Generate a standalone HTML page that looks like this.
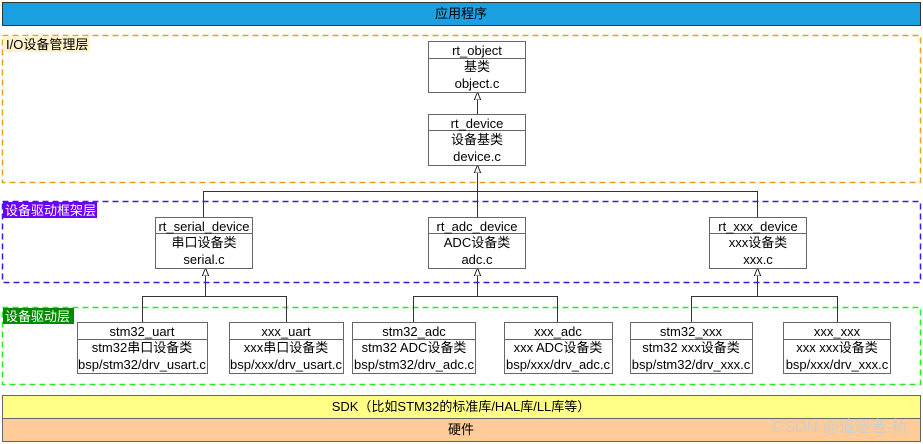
<!DOCTYPE html>
<html><head><meta charset="utf-8"><style>
html,body{margin:0;padding:0;background:#fff;}
svg{display:block;font-family:"Liberation Sans","Noto Sans CJK SC",sans-serif;}
text{font-size:13px;fill:#000;}
</style></head><body>
<svg width="923" height="444" viewBox="0 0 923 444" xmlns="http://www.w3.org/2000/svg">
<defs>
<marker id="tri" viewBox="0 0 10 10" refX="10" refY="5" markerWidth="8" markerHeight="8" orient="auto">
<path d="M0,1 L10,5 L0,9 Z" fill="#fff" stroke="#000" stroke-width="1"/></marker>
</defs>
<rect x="2.5" y="2.5" width="918" height="23" fill="#1ba1e2" stroke="#333"/>
<text x="461" y="18" text-anchor="middle">应用程序</text>

<rect x="2.5" y="35.5" width="918" height="147" fill="none" stroke="#e3a21a" stroke-width="1.5" stroke-dasharray="6,4"/>
<rect x="3" y="36" width="87" height="16" fill="#fff2cc"/>
<text x="6" y="49">I/O设备管理层</text>

<rect x="2.5" y="201.5" width="918" height="81" fill="none" stroke="#3d1bdc" stroke-width="1.5" stroke-dasharray="6,4"/>
<rect x="3" y="202" width="94" height="16" fill="#6a00ff"/>
<text x="5" y="215" style="fill:#fff">设备驱动框架层</text>

<rect x="2.5" y="307.5" width="918" height="77" fill="none" stroke="#22ee22" stroke-width="1.5" stroke-dasharray="6,4"/>
<rect x="3" y="308" width="71" height="16" fill="#008a00"/>
<text x="5" y="321" style="fill:#fff">设备驱动层</text>

<g fill="none" stroke="#333" stroke-width="1">
<path d="M477.5 114 V92" marker-end="url(#tri)"/>
<path d="M203.5 217 V191.5 H757.5 V217 M477.5 217 V165" marker-end="url(#tri)"/>
<path d="M142.5 322 V296.5 H286.5 V322 M205.5 296 V268" marker-end="url(#tri)"/>
<path d="M413.5 322 V296.5 H557.5 V322 M477.5 296 V268" marker-end="url(#tri)"/>
<path d="M691.5 322 V296.5 H837.5 V322 M757.5 296 V268" marker-end="url(#tri)"/>
</g>

<g fill="#fff" stroke="#666" stroke-width="1">
<rect x="428.5" y="41.5" width="97" height="51"/><line x1="428.5" y1="58.5" x2="525.5" y2="58.5"/>
<rect x="428.5" y="114.5" width="97" height="51"/><line x1="428.5" y1="130.5" x2="525.5" y2="130.5"/>
<rect x="155.5" y="217.5" width="97" height="51"/><line x1="155.5" y1="233.5" x2="252.5" y2="233.5"/>
<rect x="428.5" y="217.5" width="97" height="51"/><line x1="428.5" y1="233.5" x2="525.5" y2="233.5"/>
<rect x="709.5" y="217.5" width="97" height="51"/><line x1="709.5" y1="233.5" x2="806.5" y2="233.5"/>
<rect x="77.5" y="322.5" width="130" height="51"/><line x1="77.5" y1="339.5" x2="207.5" y2="339.5"/>
<rect x="229.5" y="322.5" width="114" height="51"/><line x1="229.5" y1="339.5" x2="343.5" y2="339.5"/>
<rect x="352.5" y="322.5" width="123" height="51"/><line x1="352.5" y1="339.5" x2="475.5" y2="339.5"/>
<rect x="504.5" y="322.5" width="108" height="51"/><line x1="504.5" y1="339.5" x2="612.5" y2="339.5"/>
<rect x="630.5" y="322.5" width="122" height="51"/><line x1="630.5" y1="339.5" x2="752.5" y2="339.5"/>
<rect x="783.5" y="322.5" width="107" height="51"/><line x1="783.5" y1="339.5" x2="890.5" y2="339.5"/>
</g>

<g text-anchor="middle">
<text x="477" y="55">rt_object</text><text x="477" y="71">基类</text><text x="477" y="88">object.c</text>
<text x="477" y="128">rt_device</text><text x="477" y="144">设备基类</text><text x="477" y="161">device.c</text>
<text x="204" y="231">rt_serial_device</text><text x="204" y="247">串口设备类</text><text x="204" y="264">serial.c</text>
<text x="477" y="231">rt_adc_device</text><text x="477" y="247">ADC设备类</text><text x="477" y="264">adc.c</text>
<text x="758" y="231">rt_xxx_device</text><text x="758" y="247">xxx设备类</text><text x="758" y="264">xxx.c</text>
<text x="142" y="336">stm32_uart</text><text x="142" y="352">stm32串口设备类</text><text x="142" y="369">bsp/stm32/drv_usart.c</text>
<text x="286" y="336">xxx_uart</text><text x="286" y="352">xxx串口设备类</text><text x="286" y="369">bsp/xxx/drv_usart.c</text>
<text x="414" y="336">stm32_adc</text><text x="414" y="352">stm32 ADC设备类</text><text x="414" y="369">bsp/stm32/drv_adc.c</text>
<text x="558" y="336">xxx_adc</text><text x="558" y="352">xxx ADC设备类</text><text x="558" y="369">bsp/xxx/drv_adc.c</text>
<text x="691" y="336">stm32_xxx</text><text x="691" y="352">stm32 xxx设备类</text><text x="691" y="369">bsp/stm32/drv_xxx.c</text>
<text x="837" y="336">xxx_xxx</text><text x="837" y="352">xxx xxx设备类</text><text x="837" y="369">bsp/xxx/drv_xxx.c</text>
</g>

<rect x="2.5" y="395.5" width="918" height="23" fill="#ffff88" stroke="#666"/>
<text x="461" y="411" text-anchor="middle">SDK（比如STM32的标准库/HAL库/LL库等）</text>
<rect x="2.5" y="418.5" width="918" height="23" fill="#ffcc99" stroke="#666"/>
<text x="461" y="434" text-anchor="middle">硬件</text>
<text x="908" y="432" text-anchor="end" style="font-size:16px;fill:#ccc;opacity:0.9">CSDN @追逐者-桥</text>
</svg>
</body></html>
